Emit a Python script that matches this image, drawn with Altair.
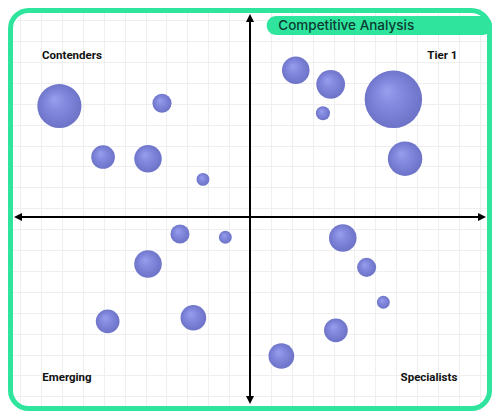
import altair as alt
import pandas as pd

# ---- data ----
bubble_x = [-9.12, -4.21, -7.03, -4.88, -2.25,
            2.19, 3.86, 3.49, 6.86, 7.42,
            -3.35, -1.18, -4.88, -6.81, -2.71,
            4.44, 5.58, 6.38, 4.11, 1.50]
bubble_y = [5.31, 5.44, 2.87, 2.79, 1.80,
            7.02, 6.35, 4.96, 5.63, 2.79,
            -0.81, -0.97, -2.25, -4.99, -4.82,
            -1.00, -2.41, -4.08, -5.42, -6.65]
bubble_size = [59, 11, 17, 23, 5,
               23, 25, 6, 100, 36,
               11, 5, 23, 17, 20,
               23, 11, 5, 17, 20]

quad_labels = ["Contenders", "Tier 1", "Emerging", "Specialists"]
quad_x = [-9.95, 9.92, -9.94, 9.92]
quad_y = [7.70, 7.70, -7.72, -7.72]
quad_align = ["left", "right", "left", "right"]

grid_x = list(range(-11, 12))
grid_y = [round(9.42 - k, 2) for k in range(19)]

title_text = "Competitive Analysis"

# ---- style ----
GREEN = "#2fe59e"
X_DOM = [-11.579, 11.579]
Y_DOM = [-9.282, 10.0]

xs = alt.Scale(domain=X_DOM, nice=False, zero=False)
ys = alt.Scale(domain=Y_DOM, nice=False, zero=False)

ax_x = alt.Axis(values=grid_x, grid=True, gridColor="#efefef", gridWidth=1,
                labels=False, ticks=False, domain=False, title=None)
ax_y = alt.Axis(values=grid_y, grid=True, gridColor="#efefef", gridWidth=1,
                labels=False, ticks=False, domain=False, title=None)

bubbles_df = pd.DataFrame({"x": bubble_x, "y": bubble_y, "size": bubble_size})
labels_df = pd.DataFrame({"label": quad_labels, "x": quad_x, "y": quad_y, "align": quad_align})
axes_df = pd.DataFrame({"x": [-11.10, 0.0], "x2": [11.10, 0.0],
                        "y": [0.0, -8.76], "y2": [0.0, 9.52]})
heads_df = pd.DataFrame({
    "x": [-11.10, 11.10, 0.0, 0.0],
    "y": [0.0, 0.0, 9.52, -8.76],
    "shape": ["M -1 0 L 1 -1 L 1 1 Z", "M 1 0 L -1 -1 L -1 1 Z",
              "M 0 -1 L -1 1 L 1 1 Z", "M 0 1 L -1 -1 L 1 -1 Z"],
})

grad = alt.RadialGradient(
    gradient="radial",
    x1=0.38, y1=0.34, r1=0.0,
    x2=0.5, y2=0.5, r2=0.55,
    stops=[alt.GradientStop(color="#989fee", offset=0.0),
           alt.GradientStop(color="#8087dc", offset=0.45),
           alt.GradientStop(color="#6a70c4", offset=1.0)],
)


def X(f="x:Q"):
    return alt.X(f, scale=xs, axis=ax_x)


def Y(f="y:Q"):
    return alt.Y(f, scale=ys, axis=ax_y)


bubbles = alt.Chart(bubbles_df).mark_circle(fill=grad, opacity=1).encode(
    x=X(), y=Y(),
    size=alt.Size("size:Q", scale=alt.Scale(type="linear", domain=[0, 100], range=[0, 3300]),
                  legend=None),
)

shafts = alt.Chart(axes_df).mark_rule(color="black", strokeWidth=2).encode(
    x=X(), x2="x2:Q", y=Y(), y2="y2:Q",
)

heads = alt.Chart(heads_df).mark_point(filled=True, opacity=1, color="black", size=64,
                                       strokeWidth=0).encode(
    x=X(), y=Y(),
    shape=alt.Shape("shape:N", scale=None),
)

labels_left = alt.Chart(labels_df[labels_df["align"] == "left"]).mark_text(
    align="left", baseline="middle", font="Roboto", fontWeight="bold", fontSize=11.5,
    color="#111111").encode(x=X(), y=Y(), text="label:N")
labels_right = alt.Chart(labels_df[labels_df["align"] == "right"]).mark_text(
    align="right", baseline="middle", font="Roboto", fontWeight="bold", fontSize=11.5,
    color="#111111").encode(x=X(), y=Y(), text="label:N")

pill = alt.Chart(pd.DataFrame({"a": [0]})).mark_rect(
    fill=GREEN, cornerRadius=9.5).encode(
    x=alt.value(258.7), x2=alt.value(484), y=alt.value(8), y2=alt.value(27))

frame = alt.Chart(pd.DataFrame({"a": [0]})).mark_rect(
    filled=False, stroke=GREEN, strokeWidth=5, cornerRadius=18).encode(
    x=alt.value(2.5), x2=alt.value(481.5), y=alt.value(2.5), y2=alt.value(400.5))

title = alt.Chart(pd.DataFrame({"t": [title_text]})).mark_text(
    align="left", baseline="middle", font="Inter", fontWeight=500, fontSize=13.5,
    color="#0c3b32").encode(
    x=alt.value(270.3), y=alt.value(18), text="t:N")

chart = alt.layer(bubbles, shafts, heads, labels_left, labels_right, pill, frame, title).properties(
    width=484, height=403, padding=0,
    autosize=alt.AutoSizeParams(type="none"),
    background="white",
).configure_view(stroke=None)

chart.save("out.html", embed_options={"renderer": "svg", "actions": False})
